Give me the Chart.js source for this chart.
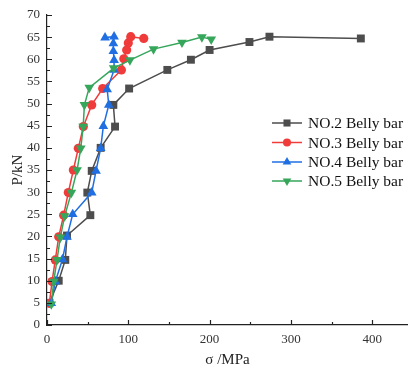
<!DOCTYPE html>
<html>
<head>
<meta charset="utf-8">
<script src="https://cdn.jsdelivr.net/npm/chart.js@4.4.1/dist/chart.umd.min.js"></script>
<style>
  html, body { margin: 0; padding: 0; background: #fff; }
  #wrap { width: 408px; height: 370px; }
</style>
</head>
<body>
<div id="wrap"><canvas id="c" width="408" height="370"></canvas></div>
<script>
// ── Series (σ in MPa, P in kN) ──
const seriesLabels = ['NO.2 Belly bar', 'NO.3 Belly bar', 'NO.4 Belly bar', 'NO.5 Belly bar'];

const no2Sigma = [3, 14.4, 22.5, 24.6, 53.3, 49.6, 55, 66, 83.7, 81.6, 101, 148, 177, 200, 249, 273.6, 386];
const no2Load  = [5, 10, 14.7, 20.2, 24.8, 29.9, 34.8, 40, 44.8, 49.7, 53.4, 57.6, 59.9, 62.1, 63.9, 65.1, 64.7];

const no3Sigma = [2.9, 6.2, 10.2, 14.4, 20.5, 26.2, 32.4, 38.5, 44.7, 55, 68.5, 91.5, 94.5, 98, 100, 103, 119];
const no3Load  = [4.9, 9.8, 14.7, 19.9, 24.8, 29.9, 35, 39.9, 44.8, 49.7, 53.4, 57.6, 60.1, 62.1, 63.7, 65.1, 64.7];

const no4Sigma = [5.3, 10.2, 19, 24.6, 31.6, 55, 60.3, 66, 69.3, 76, 74, 82.5, 82.5, 81.6, 81.6, 82.5, 71.4];
const no4Load  = [4.9, 9.8, 14.8, 19.9, 25, 29.9, 34.8, 39.9, 44.9, 49.7, 53.2, 57.6, 59.8, 61.8, 63.6, 65.1, 64.9];

const no5Sigma = [5.3, 8.2, 12.3, 16.4, 21.7, 30, 37, 41.5, 44.5, 46, 52, 82, 102, 131, 166, 190.5, 202];
const no5Load  = [4.7, 9.8, 14.7, 19.8, 24.6, 29.9, 35, 39.9, 44.8, 49.7, 53.6, 58, 59.8, 62.3, 63.8, 65, 64.5];

const xTickStep = 100, xMinorStep = 50, xMin = 0, xMax = 444;
const yTickStep = 5, yMinorStep = 2.5, yMin = 0, yMax = 70;

const COLORS = ['#4d4d4d', '#f03b3b', '#1f6fe3', '#35a65a'];
const STYLES = [
  { pointStyle: 'rect', radius: 5.6, rotation: 0 },
  { pointStyle: 'circle', radius: 4.6, rotation: 0 },
  { pointStyle: 'triangle', radius: 5.6, rotation: 0 },
  { pointStyle: 'triangle', radius: 5.6, rotation: 180 },
];
const SERIF = "'Liberation Serif', 'Times New Roman', serif";

const sigmas = [no2Sigma, no3Sigma, no4Sigma, no5Sigma];
const loads  = [no2Load, no3Load, no4Load, no5Load];

const datasets = seriesLabels.map((label, i) => ({
  label,
  data: sigmas[i].map((x, k) => ({ x, y: loads[i][k] })),
  showLine: true,
  borderColor: COLORS[i],
  backgroundColor: COLORS[i],
  borderWidth: 1.5,
  pointStyle: STYLES[i].pointStyle,
  pointRadius: STYLES[i].radius,
  pointRotation: STYLES[i].rotation,
  pointBorderWidth: 0,
  tension: 0,
  order: 4 - i,
}));

// ── Inward major/minor tick marks (origin style) ──
const innerTicks = {
  id: 'innerTicks',
  afterDraw(chart) {
    const { ctx, scales: { x, y } } = chart;
    ctx.save();
    ctx.strokeStyle = '#222';
    ctx.lineWidth = 1.2;
    ctx.beginPath();
    for (let v = xMin; v <= xMax; v += xMinorStep) {
      const px = Math.round(x.getPixelForValue(v)) + 0.5;
      const len = v % xTickStep === 0 ? 5 : 3;
      ctx.moveTo(px, y.bottom);
      ctx.lineTo(px, y.bottom - len);
    }
    for (let v = yMin; v <= yMax; v += yMinorStep) {
      const py = Math.round(y.getPixelForValue(v)) + 0.5;
      const len = v % yTickStep === 0 ? 5 : 3;
      ctx.moveTo(x.left, py);
      ctx.lineTo(x.left + len, py);
    }
    ctx.stroke();
    ctx.restore();
  },
};

// ── Legend box drawn by hand at the right of the plot ──
const sideLegend = {
  id: 'sideLegend',
  afterDraw(chart) {
    const { ctx } = chart;
    const x0 = 272, x1 = 302, tx = 308, rows = [123, 142.5, 162, 181];
    ctx.save();
    ctx.font = `15.5px ${SERIF}`;
    ctx.textBaseline = 'middle';
    chart.data.datasets.forEach((ds, i) => {
      const yy = rows[i];
      ctx.strokeStyle = ds.borderColor;
      ctx.lineWidth = 1.5;
      ctx.beginPath();
      ctx.moveTo(x0, yy);
      ctx.lineTo(x1, yy);
      ctx.stroke();
      ctx.fillStyle = ds.backgroundColor;
      Chart.helpers.drawPoint(ctx, {
        pointStyle: ds.pointStyle, radius: ds.pointRadius - 0.6,
        rotation: ds.pointRotation, borderWidth: 0,
      }, (x0 + x1) / 2, yy);
      ctx.fillStyle = '#111';
      ctx.fillText(ds.label, tx, yy + 1);
    });
    ctx.restore();
  },
};

new Chart(document.getElementById('c').getContext('2d'), {
  type: 'scatter',
  data: { datasets },
  plugins: [innerTicks, sideLegend],
  options: {
    responsive: false,
    animation: false,
    layout: { autoPadding: false, padding: { top: 15, right: 0, left: 0, bottom: 0 } },
    plugins: { legend: { display: false }, tooltip: { enabled: false } },
    scales: {
      x: {
        type: 'linear',
        min: xMin, max: xMax,
        grid: { display: false, drawTicks: false },
        border: { display: true, color: '#222', width: 1.2 },
        ticks: {
          stepSize: xTickStep, includeBounds: false, padding: 7,
          color: '#333', font: { family: SERIF, size: 13 },
        },
        title: {
          display: true, text: 'σ /MPa', color: '#222',
          font: { family: SERIF, size: 15 }, padding: { top: 0, bottom: 1 },
        },
        afterFit(scale) {
          scale.height = 45;
          scale.paddingLeft = 0;
          scale.paddingRight = 0;
        },
      },
      y: {
        type: 'linear',
        min: yMin, max: yMax,
        grid: { display: false, drawTicks: false },
        border: { display: true, color: '#222', width: 1.2 },
        ticks: {
          stepSize: yTickStep, padding: 7,
          color: '#333', font: { family: SERIF, size: 13 },
        },
        title: {
          display: true, text: 'P/kN', color: '#222',
          font: { family: SERIF, size: 15 }, padding: { top: 9, bottom: 0 },
        },
        afterFit(scale) { scale.width = 47; },
      },
    },
  },
});
</script>
</body>
</html>
